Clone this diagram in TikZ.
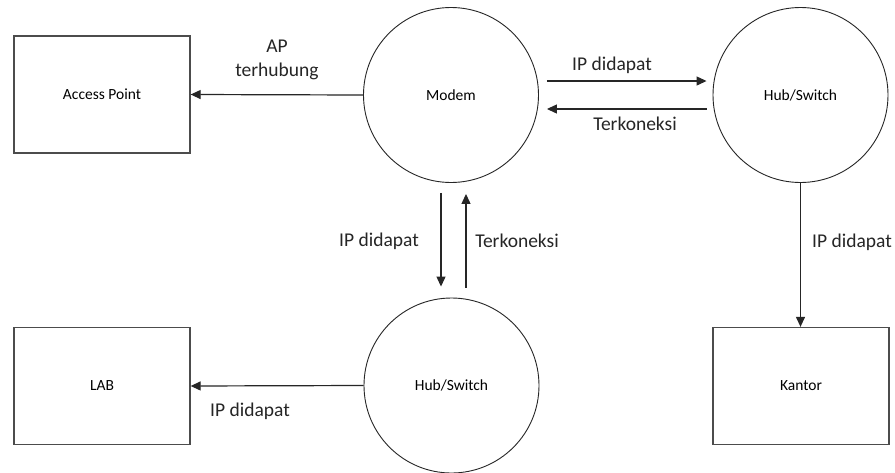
\documentclass[tikz,border=0pt]{standalone}
\usepackage{fontspec}
\setmainfont{Carlito}
\usetikzlibrary{arrows.meta,calc}
\begin{document}
\begin{tikzpicture}[x=1pt,y=-1pt,
  boxnode/.style={draw=black!70,line width=1.3pt,rectangle,minimum width=176pt,minimum height=117pt,inner sep=0pt,font=\fontsize{15.5}{18}\selectfont},
  procnode/.style={draw=black!85,line width=0.9pt,circle,minimum size=175pt,inner sep=0pt,font=\fontsize{15.5}{18}\selectfont},
  flow/.style={draw=black!85,line width=1.2pt,-{Triangle[length=10pt,width=9pt]}},
  flowlabel/.style={font=\fontsize{19.5}{23}\selectfont,text=black!85,inner sep=0pt,align=center}]
\useasboundingbox (0,0) rectangle (895,472);
\fill[white] (0,0) rectangle (895,472);

\node[boxnode] (ap) at (102,94.5) {Access Point};
\node[boxnode] (lab) at (102,386) {LAB};
\node[boxnode] (kantor) at (801,386) {Kantor};
\node[procnode] (modem) at (451,95) {Modem};
\node[procnode] (hubr) at (800.5,95) {Hub/Switch};
\node[procnode] (hubb) at (451.5,385.5) {Hub/Switch};

% Modem -> Access Point
\draw[flow] (modem.west) -- (ap.east);
\node[flowlabel] (lap) at (277,60) {AP\\[1pt]terhubung};

% Modem <-> Hub right
\draw[flow] ([shift={(8,-14)}]modem.east) -- ([shift={(-6,-14)}]hubr.west);
\draw[flow] ([shift={(-6,14)}]hubr.west) -- ([shift={(8,14)}]modem.east);
\node[flowlabel] (lip1) at (612,65) {IP didapat};
\node[flowlabel] (lter1) at (635,124) {Terkoneksi};

% Modem <-> Hub bottom
\draw[flow] ([shift={(-10,10)}]modem.south) -- ([shift={(-10.5,-11)}]hubb.north);
\draw[flow] ([shift={(14.5,-10)}]hubb.north) -- ([shift={(15,11)}]modem.south);
\node[flowlabel] (lip2) at (379,241) {IP didapat};
\node[flowlabel] (lter2) at (517,241) {Terkoneksi};

% Hub right -> Kantor
\draw[flow] (hubr.south) -- (hubr.south |- kantor.north);
\node[flowlabel] (lip3) at (852,242) {IP didapat};

% Hub bottom -> LAB
\draw[flow] (hubb.west) -- (lab.east);
\node[flowlabel] (lip4) at (250,411) {IP didapat};
\end{tikzpicture}
\end{document}
